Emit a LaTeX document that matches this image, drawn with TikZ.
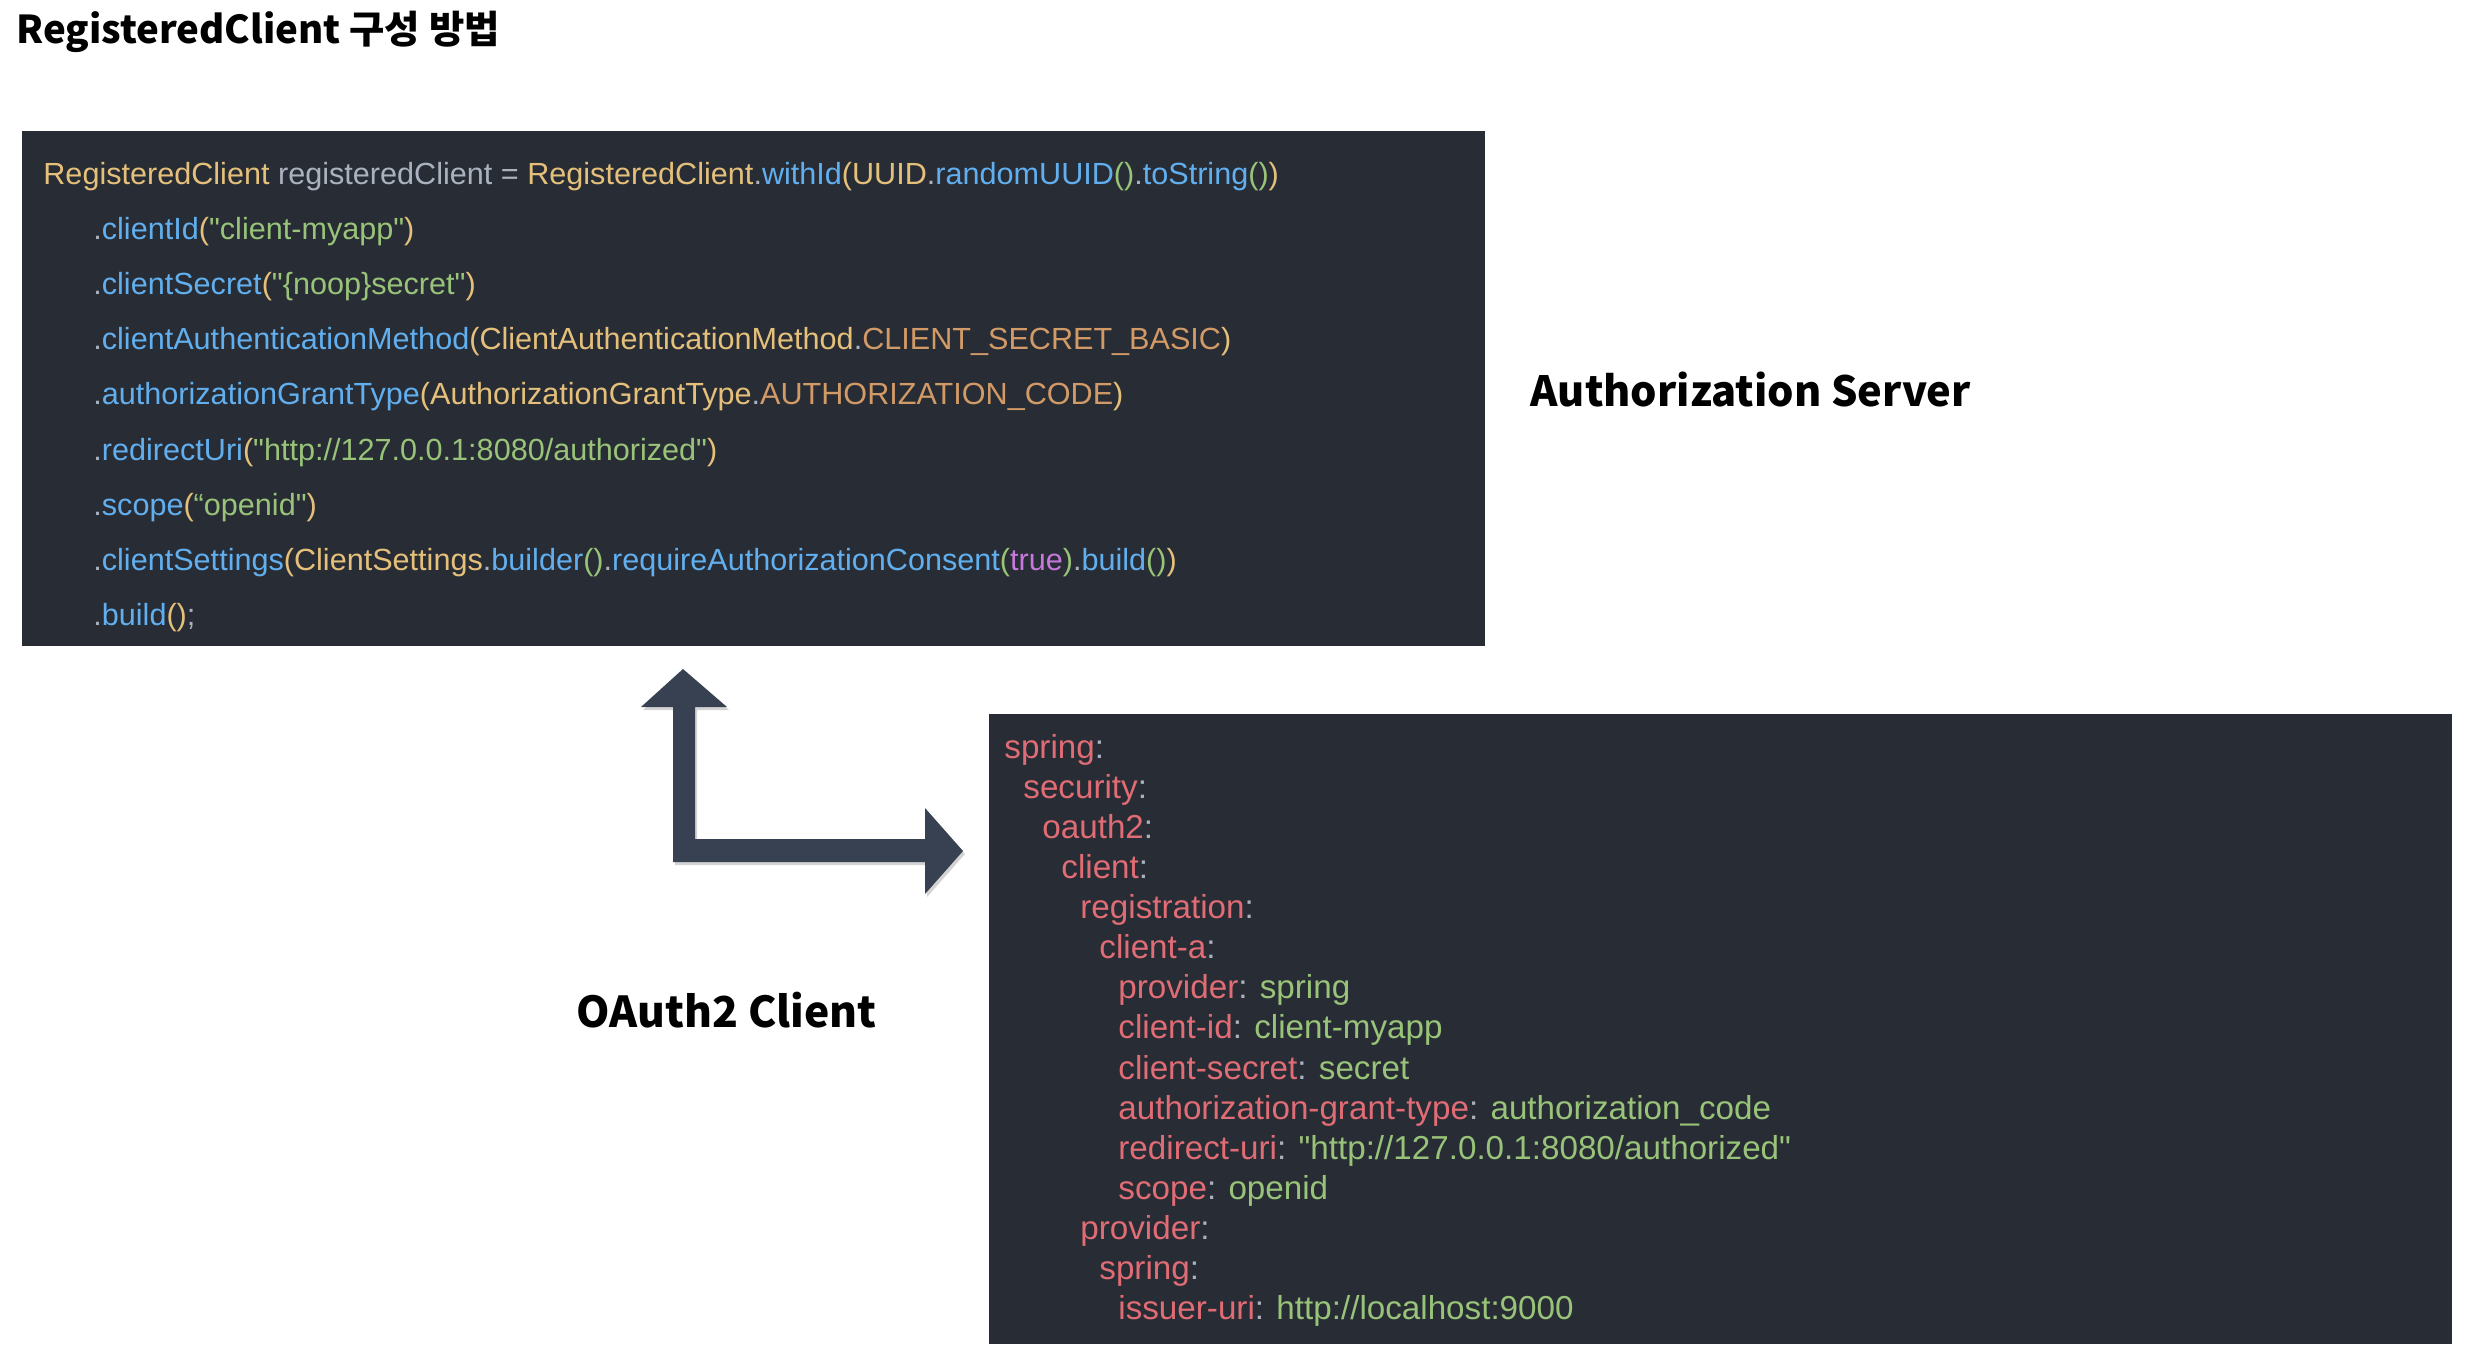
\documentclass[tikz,border=0pt]{standalone}
\usepackage{fontspec}
\setmainfont{Liberation Sans}
\newfontfamily\codefont{Liberation Sans}
\newfontfamily\kr{Noto Sans CJK KR}
\usetikzlibrary{shadows}

\definecolor{codebg}{HTML}{282C34}
\definecolor{arrowcol}{RGB}{55,65,81}
\definecolor{cYel}{HTML}{E5C07B}
\definecolor{cPln}{HTML}{ABB2BF}
\definecolor{cBlu}{HTML}{61AFEF}
\definecolor{cGrn}{HTML}{98C379}
\definecolor{cOrg}{HTML}{D19A66}
\definecolor{cVio}{HTML}{C678DD}
\definecolor{cRed}{HTML}{E06C75}

\newcommand{\tYel}[1]{\textcolor{cYel}{#1}}
\newcommand{\tBlu}[1]{\textcolor{cBlu}{#1}}
\newcommand{\tGrn}[1]{\textcolor{cGrn}{#1}}
\newcommand{\tOrg}[1]{\textcolor{cOrg}{#1}}
\newcommand{\tVio}[1]{\textcolor{cVio}{#1}}
\newcommand{\tRed}[1]{\textcolor{cRed}{#1}}

\begin{document}
\begin{tikzpicture}
		[
			x=0.5pt, y=-0.5pt,
			box/.style={rectangle, fill=codebg, inner sep=0pt},
			code/.style={anchor=base west, inner sep=0pt, text=cPln, font=\codefont\fontsize{15.3}{17}\selectfont},
			yaml/.style={anchor=base west, inner sep=0pt, text=cPln, font=\codefont\fontsize{16.6}{18}\selectfont},
			title/.style={anchor=base west, inner sep=0pt, font=\kr\bfseries\fontsize{#1}{#1}\selectfont},
		]

		\useasboundingbox (0,0) rectangle (2470,1362);

		% Boxes
		\node[box, minimum width=731.5pt, minimum height=257.5pt] (reg) at (753.5,388.5) {};
		\node[box, minimum width=731.5pt, minimum height=315pt] (yml) at (1720.5,1029) {};

		% Titles
		\node[title=19.2] (head) at (16,43) {RegisteredClient 구성 방법};
		\node[title=20.8] (server) at (1530,406) {Authorization Server};
		\node[title=21.3] (client) at (576,1027) {OAuth2 Client};

		% Java code
		\foreach \n/\x/\txt in
		{
			1/43/{\tYel{RegisteredClient} registeredClient = \tYel{RegisteredClient}.\tBlu{withId}\tYel{(UUID}.\tBlu{randomUUID}\tGrn{()}.\tBlu{toString}\tGrn{()}\tYel{)}},
			2/93/{.\tBlu{clientId}\tYel{(}\tGrn{"client-myapp"}\tYel{)}},
			3/93/{.\tBlu{clientSecret}\tYel{(}\tGrn{"\{noop\}secret"}\tYel{)}},
			4/93/{.\tBlu{clientAuthenticationMethod}\tYel{(ClientAuthenticationMethod}.\tOrg{CLIENT\_SECRET\_BASIC}\tYel{)}},
			5/93/{.\tBlu{authorizationGrantType}\tYel{(AuthorizationGrantType}.\tOrg{AUTHORIZATION\_CODE}\tYel{)}},
			6/93/{.\tBlu{redirectUri}\tYel{(}\tGrn{"http://127.0.0.1:8080/authorized"}\tYel{)}},
			7/93/{.\tBlu{scope}\tYel{(}\tGrn{“openid"}\tYel{)}},
			8/93/{.\tBlu{clientSettings}\tYel{(ClientSettings}.\tBlu{builder}\tGrn{()}.\tBlu{requireAuthorizationConsent}\tGrn{(}\tVio{true}\tGrn{)}.\tBlu{build}\tGrn{()}\tYel{)}},
			9/93/{.\tBlu{build}\tYel{()};}
		}
			\node[code] (c\n) at (\x,{184+55.2*(\n-1)}) {\txt};

		% YAML
		\foreach \n/\lvl/\txt in
		{
			1/0/{\tRed{spring}:},
			2/1/{\tRed{security}:},
			3/2/{\tRed{oauth2}:},
			4/3/{\tRed{client}:},
			5/4/{\tRed{registration}:},
			6/5/{\tRed{client-a}:},
			7/6/{\tRed{provider}: \tGrn{spring}},
			8/6/{\tRed{client-id}: \tGrn{client-myapp}},
			9/6/{\tRed{client-secret}: \tGrn{secret}},
			10/6/{\tRed{authorization-grant-type}: \tGrn{authorization\_code}},
			11/6/{\tRed{redirect-uri}: \tGrn{"http://127.0.0.1:8080/authorized"}},
			12/6/{\tRed{scope}: \tGrn{openid}},
			13/4/{\tRed{provider}:},
			14/5/{\tRed{spring}:},
			15/6/{\tRed{issuer-uri}: \tGrn{http://localhost:9000}}
		}
			\node[yaml] (y\n) at ({1004+19*\lvl},{758+40.14*(\n-1)}) {\txt};

		% Arrow
		\fill[arrowcol, drop shadow={opacity=0.35, shadow xshift=1pt, shadow yshift=-1.5pt}]
			(683,669) -- (727,707) -- (695,707) -- (695,839) -- (925,839) -- (925,808)
			-- (963,851) -- (925,894) -- (925,862) -- (673,862) -- (673,707) -- (641,707) -- cycle;

		\end{tikzpicture}
\end{document}
